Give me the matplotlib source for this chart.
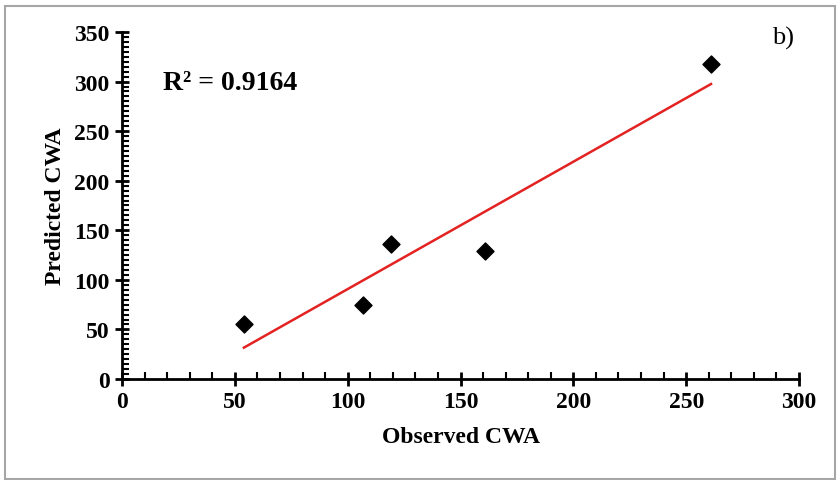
import numpy as np
import matplotlib.pyplot as plt
from matplotlib.patches import Rectangle
from matplotlib.ticker import MultipleLocator

observed = [54, 107, 119, 161, 261]
predicted = [55, 75, 136, 129, 318]
x_ticks = [0, 50, 100, 150, 200, 250, 300]
y_ticks = [0, 50, 100, 150, 200, 250, 300, 350]
r2_label = 'R² = 0.9164'

plt.rcParams['font.family'] = ['Liberation Serif', 'DejaVu Serif']

fig = plt.figure(figsize=(8.38, 4.81), dpi=100)
ax = fig.add_axes([0.1456, 0.21, 0.8079, 0.7214])

# outer frame
fig.patches.append(Rectangle((5/838, 1/481), 830/838, 473/481, transform=fig.transFigure,
                             fill=False, edgecolor='#a6a6a6', linewidth=1.5))

ax.scatter(observed, predicted, marker='D', s=75, color='black', zorder=3)

# linear trend line
slope, intercept = np.polyfit(observed, predicted, 1)
xl = np.array([min(observed), max(observed)])
ax.plot(xl, slope * xl + intercept, color='#e32222', linewidth=1.8)

ax.text(18, 299, r2_label, fontsize=20, fontweight='bold', va='center', ha='left')
ax.text(288, 345, 'b)', fontsize=19, va='center', ha='left')

ax.set_xlim(0, 300)
ax.set_ylim(0, 350)
ax.set_xticks(x_ticks)
ax.set_yticks(y_ticks)
ax.xaxis.set_minor_locator(MultipleLocator(10))
ax.yaxis.set_minor_locator(MultipleLocator(5))
ax.tick_params(which='major', direction='inout', length=10, width=2, labelsize=17, pad=4)
ax.tick_params(which='minor', direction='in', length=5, width=1.5)
for lab in ax.get_xticklabels() + ax.get_yticklabels():
    lab.set_fontweight('bold')

ax.spines['top'].set_visible(False)
ax.spines['right'].set_visible(False)
ax.spines['left'].set_linewidth(2)
ax.spines['bottom'].set_linewidth(2)

ax.set_xlabel('Observed CWA', fontsize=17, fontweight='bold', labelpad=10)
ax.set_ylabel('Predicted CWA', fontsize=17, fontweight='bold', labelpad=6)

fig.savefig('out.png', dpi=100)
